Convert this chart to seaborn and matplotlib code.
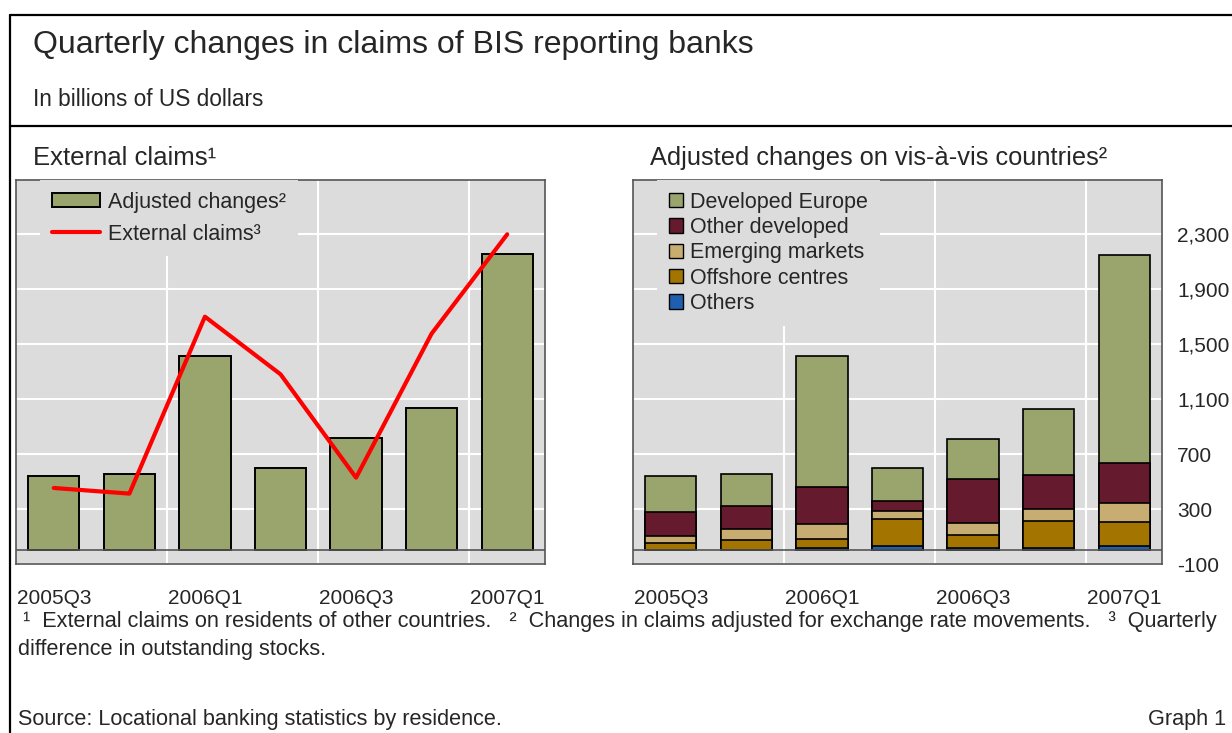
import numpy as np
import seaborn as sns
import matplotlib.pyplot as plt
from matplotlib.lines import Line2D
from matplotlib.patches import Patch

# -----------------------------
# Data (billions of US dollars)
# -----------------------------
quarters = ["2005Q3", "2005Q4", "2006Q1", "2006Q2", "2006Q3", "2006Q4", "2007Q1"]

adjusted_changes = [541, 555, 1413, 601, 817, 1033, 2153]
external_claims = [453, 412, 1699, 1280, 528, 1576, 2298]

# stacked components, bottom to top
others = [5, 5, 15, 29, 15, 15, 32]
offshore = [46, 73, 70, 201, 99, 201, 170]
emerging = [56, 73, 104, 56, 87, 87, 145]
other_developed = [172, 172, 274, 75, 318, 245, 291]
developed_europe = [264, 233, 947, 235, 291, 480, 1510]

region_names = ["Others", "Offshore centres", "Emerging markets",
                "Other developed", "Developed Europe"]
region_values = [others, offshore, emerging, other_developed, developed_europe]
region_colors = ["#1F5FAF", "#A47400", "#C8AD72", "#651A2E", "#9AA56E"]

yticks = [-100, 300, 700, 1100, 1500, 1900, 2300]

# -----------------------------
# Style
# -----------------------------
sns.set_style("darkgrid", {"axes.facecolor": "#DCDCDC", "grid.color": "white"})
plt.rcParams["font.family"] = ["Liberation Sans", "DejaVu Sans"]
plt.rcParams["axes.unicode_minus"] = False

W, H = 1232, 733
fig = plt.figure(figsize=(W / 100, H / 100), dpi=100)


def fx(px):
    return px / W


def fy(py):
    return 1 - py / H


ax1 = fig.add_axes([fx(16), fy(564), 529 / W, 384 / H])
ax2 = fig.add_axes([fx(633), fy(564), 529 / W, 384 / H])

# left panel: total adjusted changes + external claims line
sns.barplot(x=quarters, y=adjusted_changes, color="#9AA56E", saturation=1,
            width=0.68, edgecolor="black", linewidth=1.4, errorbar=None, ax=ax1)
sns.lineplot(x=quarters, y=external_claims, color="red", linewidth=3,
             sort=False, ax=ax1)

# right panel: stacked bars drawn as overlapping cumulative sums
cum = np.cumsum(np.array(region_values), axis=0)
for i in range(len(region_names) - 1, -1, -1):
    sns.barplot(x=quarters, y=cum[i], color=region_colors[i], saturation=1,
                width=0.68, edgecolor="black", linewidth=1.2, errorbar=None, ax=ax2)

for ax in (ax1, ax2):
    ax.set_ylim(-100, 2693)
    ax.set_xlim(-0.5, 6.5)
    ax.set_yticks(yticks)
    ax.set_xticks([0, 2, 4, 6])
    ax.set_xticklabels(quarters[::2])
    ax.set_xticks([1.5, 3.5, 5.5], minor=True)
    ax.grid(False, axis="x", which="major")
    ax.grid(True, axis="x", which="minor", color="white", linewidth=1.5)
    ax.grid(True, axis="y", which="major", color="white", linewidth=1.5)
    ax.set_axisbelow(True)
    ax.axhline(0, color="#555555", linewidth=1.2, zorder=3)
    ax.set_xlabel("")
    ax.set_ylabel("")
    ax.tick_params(axis="x", which="both", length=0, pad=18, labelsize=15)
    for s in ax.spines.values():
        s.set_visible(True)
        s.set_color("#555555")
        s.set_linewidth(1.2)

ax1.tick_params(axis="y", length=0, labelleft=False)
ax2.yaxis.tick_right()
ax2.tick_params(axis="y", length=0, pad=11, labelsize=15)
ax2.set_yticklabels([f"{v:,}" for v in yticks])

# legends
h1 = [Patch(facecolor="#9AA56E", edgecolor="black", linewidth=1.4),
      Line2D([0], [0], color="red", linewidth=3)]
leg1 = ax1.legend(h1, ["Adjusted changes²", "External claims³"], loc="upper left",
                  bbox_to_anchor=(0.046, 1.0), borderaxespad=0, borderpad=0.55,
                  fontsize=15.5, handlelength=2.23, handleheight=0.65,
                  handletextpad=0.37, labelspacing=0.5, frameon=True,
                  fancybox=False, framealpha=1)
leg1.get_frame().set_facecolor("#DCDCDC")
leg1.get_frame().set_edgecolor("none")

h2 = [Patch(facecolor=c, edgecolor="black", linewidth=1) for c in region_colors[::-1]]
leg2 = ax2.legend(h2, region_names[::-1], loc="upper left",
                  bbox_to_anchor=(0.046, 1.0), borderaxespad=0, borderpad=0.55,
                  fontsize=15.5, handlelength=0.65, handleheight=0.65,
                  handletextpad=0.33, labelspacing=0.2, frameon=True,
                  fancybox=False, framealpha=1)
leg2.get_frame().set_facecolor("#DCDCDC")
leg2.get_frame().set_edgecolor("none")

# frame lines
for xs, ys in [((10, W), (15, 15)), ((10, 10), (15, H)), ((10, W), (126, 126))]:
    fig.add_artist(Line2D([fx(x) for x in xs], [fy(y) for y in ys],
                          color="black", linewidth=1.6))

# texts
fig.text(fx(33), fy(45), "Quarterly changes in claims of BIS reporting banks",
         fontsize=23, va="center")
fig.text(fx(33), fy(100), "In billions of US dollars", fontsize=16.3, va="center")
fig.text(fx(33), fy(158), "External claims¹", fontsize=18.5, va="center")
fig.text(fx(650), fy(158), "Adjusted changes on vis-à-vis countries²",
         fontsize=18.3, va="center")

fig.text(fx(23), fy(622),
         "¹  External claims on residents of other countries.   "
         "²  Changes in claims adjusted for exchange rate movements.   ³  Quarterly",
         fontsize=15.6, va="center")
fig.text(fx(18), fy(649), "difference in outstanding stocks.", fontsize=15.6, va="center")
fig.text(fx(18), fy(720), "Source: Locational banking statistics by residence.",
         fontsize=15.6, va="center")
fig.text(fx(1226), fy(720), "Graph 1", fontsize=15.6, va="center", ha="right")

fig.savefig("out.png", dpi=100)
